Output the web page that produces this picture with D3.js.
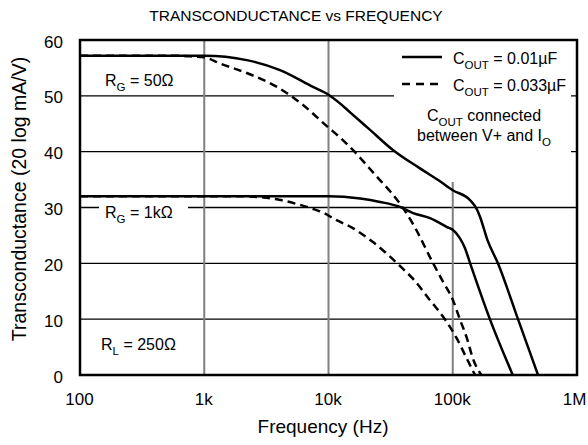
<!DOCTYPE html>
<html>
<head>
<meta charset="utf-8">
<script src="https://cdn.jsdelivr.net/npm/d3@7"></script>
<style>
  body { margin: 0; background: #fff; }
  svg text { font-family: "Liberation Sans", Arial, sans-serif; fill: #000; }
</style>
</head>
<body>
<script>
// transconductance vs frequency, 4 curves

// frequency ticks (Hz) and labels
var xTicks = [100, 1000, 10000, 100000, 1000000];
var xTickLabels = ["100", "1k", "10k", "100k", "1M"];
var yTicks = [0, 10, 20, 30, 40, 50, 60];

// RG = 50 ohm, Cout = 0.01uF (solid)
var fA = [100, 500, 1000, 2200, 4070, 7500, 10000, 12300, 15000, 21600, 33000, 54500, 80000, 100000, 138000, 157000, 166000, 190000, 231000, 335000, 486000];
var dbA = [57.2, 57.2, 57.2, 56.4, 54.6, 51.6, 50.2, 48.7, 47, 43.9, 40.3, 37.0, 34.6, 33.1, 31.3, 29.6, 28.3, 24.2, 20, 10, 0];

// RG = 50 ohm, Cout = 0.033uF (dashed)
var fB = [100, 500, 724, 1000, 1340, 2250, 3850, 6200, 9900, 12300, 15700, 25000, 31300, 39800, 48000, 69500, 83000, 100000, 114000, 130000, 145000, 170000];
var dbB = [57.2, 57.2, 57.1, 56.9, 55.8, 54, 51.6, 48.4, 44.4, 42.6, 40.3, 35.3, 32.9, 29.9, 27, 20, 16.8, 13.5, 10, 6.6, 3, 0];

// RG = 1k, Cout = 0.01uF (solid)
var fC = [100, 1000, 5000, 10000, 18000, 26000, 37600, 48000, 65600, 90000, 100000, 114000, 125000, 138000, 199000, 304000];
var dbC = [32, 32, 32, 32, 31.6, 31, 30.1, 29, 28.1, 26.5, 26, 24.5, 22.8, 20, 10, 0];

// RG = 1k, Cout = 0.033uF (dashed)
var fD = [100, 1000, 2000, 3000, 4000, 5400, 7400, 9400, 11000, 15700, 22800, 39800, 48000, 65600, 87000, 108000, 130000, 151000];
var dbD = [32, 32, 32, 31.8, 31.4, 30.7, 29.8, 28.9, 28, 26.3, 23.8, 19, 17.2, 13.4, 9.9, 6.5, 2.9, 0];

var W = 588, H = 445;
var margin = {top: 40, right: 11, bottom: 70, left: 80};
var width = W - margin.left - margin.right,
    height = H - margin.top - margin.bottom;

var svg = d3.select("body").append("svg")
    .attr("width", W)
    .attr("height", H);

var x = d3.scaleLog().domain([100, 1e6]).range([margin.left, margin.left + width]);
var y = d3.scaleLinear().domain([0, 60]).range([margin.top + height, margin.top]);

// horizontal grid (black)
svg.append("g").selectAll("line")
    .data(yTicks.filter(function(d) { return d > 0 && d < 60; }))
  .enter().append("line")
    .attr("x1", x(100)).attr("x2", x(1e6))
    .attr("y1", function(d) { return y(d); })
    .attr("y2", function(d) { return y(d); })
    .style("stroke", "#000")
    .style("stroke-width", 1.3);

// vertical grid (grey)
svg.append("g").selectAll("line")
    .data(xTicks.slice(1, 4))
  .enter().append("line")
    .attr("x1", function(d) { return x(d); })
    .attr("x2", function(d) { return x(d); })
    .attr("y1", y(60)).attr("y2", y(0))
    .style("stroke", "#808080")
    .style("stroke-width", 2);

// white boxes behind legend and RG=1k label
svg.append("rect")
    .attr("x", 394).attr("y", y(60) + 1)
    .attr("width", 177).attr("height", 141)
    .style("fill", "#fff");
svg.append("rect")
    .attr("x", 99).attr("y", 200)
    .attr("width", 89).attr("height", 24)
    .style("fill", "#fff");

// curves
var line = d3.line()
    .x(function(d) { return x(d[0]); })
    .y(function(d) { return y(d[1]); })
    .curve(d3.curveMonotoneX);

function pts(f, db) { return f.map(function(v, i) { return [v, db[i]]; }); }

var curves = [
  {p: pts(fA, dbA), dash: null},
  {p: pts(fB, dbB), dash: "8,5"},
  {p: pts(fC, dbC), dash: null},
  {p: pts(fD, dbD), dash: "8,5"}
];

svg.append("g").selectAll("path")
    .data(curves)
  .enter().append("path")
    .attr("d", function(d) { return line(d.p); })
    .style("fill", "none")
    .style("stroke", "#000")
    .style("stroke-width", 2.5)
    .style("stroke-dasharray", function(d) { return d.dash; });

// plot border
svg.append("rect")
    .attr("x", x(100)).attr("y", y(60))
    .attr("width", x(1e6) - x(100)).attr("height", y(0) - y(60))
    .style("fill", "none")
    .style("stroke", "#000")
    .style("stroke-width", 2.5);

// axes (labels only)
var xAxis = svg.append("g")
    .attr("transform", "translate(0," + y(0) + ")")
    .call(d3.axisBottom(x).tickValues(xTicks)
      .tickFormat(function(d, i) { return xTickLabels[i]; })
      .tickSize(0).tickPadding(18));
xAxis.select(".domain").remove();
xAxis.selectAll("text")
    .style("font-size", "17px")
    .style("font-family", "'Liberation Sans', Arial, sans-serif")
    .attr("dx", function(d) { return d === 1e6 ? -3 : -1; });

var yAxis = svg.append("g")
    .attr("transform", "translate(" + x(100) + ",0)")
    .call(d3.axisLeft(y).tickValues(yTicks).tickSize(0).tickPadding(17));
yAxis.select(".domain").remove();
yAxis.selectAll("text")
    .style("font-size", "17px")
    .style("font-family", "'Liberation Sans', Arial, sans-serif")
    .attr("dy", "0.42em");

// title and axis titles
svg.append("text")
    .attr("x", 296).attr("y", 21)
    .attr("text-anchor", "middle")
    .style("font-size", "15.5px")
    .text("TRANSCONDUCTANCE vs FREQUENCY");

svg.append("text")
    .attr("x", 323).attr("y", 433)
    .attr("text-anchor", "middle")
    .style("font-size", "19px")
    .text("Frequency (Hz)");

svg.append("text")
    .attr("transform", "translate(26,199) rotate(-90)")
    .attr("text-anchor", "middle")
    .style("font-size", "19.5px")
    .text("Transconductance (20 log mA/V)");

// text with a subscript
function subText(xp, yp, main, sub, rest, anchor) {
  var t = svg.append("text").attr("x", xp).attr("y", yp)
      .attr("text-anchor", anchor || "start")
      .style("font-size", "16px");
  t.append("tspan").text(main);
  t.append("tspan").attr("dy", 5).style("font-size", "11.5px").text(sub);
  if (rest) t.append("tspan").attr("dy", -5).text(rest);
  return t;
}

subText(105, 86, "R", "G", " = 50\u03A9");
subText(105, 218, "R", "G", " = 1k\u03A9");
subText(101, 350, "R", "L", " = 250\u03A9");

// legend
svg.append("line")
    .attr("x1", 402).attr("x2", 442).attr("y1", 57).attr("y2", 57)
    .style("stroke", "#000").style("stroke-width", 2.5);
svg.append("line")
    .attr("x1", 402).attr("x2", 442).attr("y1", 84).attr("y2", 84)
    .style("stroke", "#000").style("stroke-width", 2.5)
    .style("stroke-dasharray", "8,6");
subText(453, 64, "C", "OUT", " = 0.01\u00B5F");
subText(453, 91, "C", "OUT", " = 0.033\u00B5F");
subText(484, 121, "C", "OUT", " connected", "middle");
subText(484, 141, "between V+ and I", "O", null, "middle");
</script>
</body>
</html>
